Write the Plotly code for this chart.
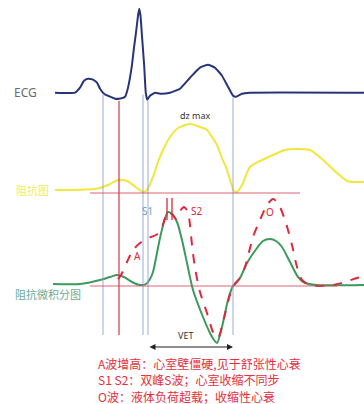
import numpy as np
import plotly.graph_objects as go

# ---- waveform samples: time in ms, amplitude relative to each trace's baseline ----
ecg_t = [0, 80, 100, 116, 132, 152, 168, 180, 196, 220, 240, 256, 280, 292, 307, 316, 324,
         332, 337, 342, 347, 352, 357, 363, 369, 380, 400, 420, 460, 500, 540, 580, 612,
         640, 668, 692, 712, 724, 748, 780, 1236]
ecg_v = [0, 0, 5, 12, 14, 13, 10, 4, -1, -4, -6, -6, -4, 5, 26, 45, 60,
         77, 84, 77, 60, 43, 26, 0, -7, -3, 0, -1, 0, 4, 15, 25, 28,
         25, 17, 6, -3, -4, -1, 0, 0]

imp_t = [0, 60, 160, 180, 220, 252, 288, 328, 352, 368, 392, 412, 432, 460, 492, 540,
         580, 608, 628, 648, 668, 688, 704, 716, 728, 748, 780, 820, 872, 920, 960,
         1020, 1072, 1128, 1168, 1200, 1236]
imp_v = [0, 0, 1, 2, 6, 10, 9, 2, -2, 0, 13, 28, 40, 53, 62, 66,
         63, 60, 53, 45, 32, 20, 7, -1, -2, 5, 23, 29, 35, 40, 41,
         40, 30, 17, 9, 8, 8]

dzdt_t = [-8, 100, 180, 220, 248, 276, 308, 340, 364, 380, 392, 404, 420, 436, 452, 468,
          488, 508, 528, 552, 592, 620, 636, 648, 668, 692, 712, 740, 768, 808, 832,
          860, 884, 908, 940, 972, 1000, 1048, 1236]
dzdt_v = [1, 1, 5, 8, 10, 8, 3, 0, 1, 6, 13, 27, 47, 63, 73, 71,
          63, 45, 22, -5, -32, -48, -55, -58, -42, -15, -1, 7, 22, 37, 44,
          46, 44, 38, 23, 8, 2, 0, 0]

abn_t = [252, 264, 288, 312, 340, 372, 404, 424, 440, 452, 468, 484, 500, 516, 532, 540,
         548, 560, 580, 608, 632, 652, 676, 696, 712, 740, 760, 792, 820, 848, 872,
         892, 920, 948, 968, 988, 1020, 1060, 1112, 1160, 1208, 1236]
abn_v = [6, 10, 23, 35, 42, 47, 50, 55, 67, 73, 71, 66, 74, 78, 73, 60,
         40, 17, -7, -28, -47, -53, -33, -13, -2, 7, 18, 48, 65, 80, 86,
         82, 65, 40, 18, 5, 0, -1, 0, 3, 7, 9]

# event markers (ms)
blue_events = [192, 352, 372, 712]
red_events = [256]
s_marks = [448, 468]
vet_start, vet_end = 372, 712

notes = ["A波增高：心室壁僵硬,见于舒张性心衰",
         "S1 S2：双峰S波；心室收缩不同步",
         "O波：液体负荷超载；收缩性心衰"]

# ---- layout constants ----
ECG_BASE, IMP_BASE, DZ_BASE = 311.3, 214, 119
LINE_BOTTOM = 69
CJK = "Noto Sans CJK SC"

fig = go.Figure()

def lane(t, v, base, color, width, dash=None, smoothing=0.7):
    fig.add_trace(go.Scatter(
        x=t, y=np.array(v) + base, mode="lines",
        line=dict(color=color, width=width, shape="spline", smoothing=smoothing, dash=dash),
        hoverinfo="skip", showlegend=False))

# event lines start just under the ECG trace, drawn first so the curves sit on top
def line_top(t):
    return min(float(np.interp(t, ecg_t, ecg_v)), 0) + ECG_BASE - 2

for t in blue_events:
    fig.add_shape(type="line", x0=t, x1=t, y0=line_top(t), y1=LINE_BOTTOM,
                  line=dict(color="rgba(140,155,215,0.85)", width=1))
for t in red_events:
    fig.add_shape(type="line", x0=t, x1=t, y0=line_top(t), y1=LINE_BOTTOM,
                  line=dict(color="rgba(210,50,70,0.9)", width=1.3))

# baselines
fig.add_shape(type="line", x0=140, x1=980, y0=IMP_BASE - 3, y1=IMP_BASE - 3,
              line=dict(color="rgba(215,60,80,0.8)", width=1))
fig.add_shape(type="line", x0=140, x1=1128, y0=DZ_BASE - 1, y1=DZ_BASE - 1,
              line=dict(color="rgba(215,60,80,0.8)", width=1))

lane(ecg_t, ecg_v, ECG_BASE, "#283478", 2, smoothing=0.4)
lane(imp_t, imp_v, IMP_BASE, "#f2e63a", 2)
lane(dzdt_t, dzdt_v, DZ_BASE, "#3c9a5c", 2)
lane(abn_t, abn_v, DZ_BASE, "#e0283c", 2, dash="dash")

# split-peak marks
for t in s_marks:
    fig.add_shape(type="line", x0=t, x1=t, y0=DZ_BASE + 87, y1=DZ_BASE + 65,
                  line=dict(color="#d8283c", width=1.3))

def label(x, y, text, color, size, font="Noto Sans", anchor="center"):
    fig.add_annotation(x=x, y=y, text=text, showarrow=False, xanchor=anchor,
                       borderpad=0, font=dict(family=font, size=size, color=color))

label(-120, 312, "ECG", "#6b6b6b", 12)
label(-92, 214, "阻抗图", "#eeee55", 11, CJK)
label(-28, 110, "阻抗微积分图", "#6aab96", 11, CJK)
label(560, 289, "dz max", "#333333", 9)
label(368, 193, "S1", "#6a9fb8", 10)
label(566, 193, "S2", "#e0283c", 10)
label(328, 148, "A", "#e0283c", 10)
label(860, 192, "O", "#e0283c", 10)
label(520, 69, "VET", "#333333", 9)

# VET double arrow
fig.add_annotation(x=vet_end, y=57, ax=vet_start, ay=57, xref="x", yref="y",
                   axref="x", ayref="y", text="", showarrow=True,
                   arrowhead=2, startarrowhead=2, arrowside="end+start",
                   arrowsize=1, arrowwidth=1.2, arrowcolor="#222222")

for i, line in enumerate(notes):
    label(168, 41 - i * 16.5, line, "#e3303c", 12, CJK, anchor="left")

fig.update_layout(
    width=364, height=404, margin=dict(l=0, r=0, t=0, b=0),
    paper_bgcolor="white", plot_bgcolor="white", showlegend=False,
    xaxis=dict(range=[-220, 1236], visible=False, fixedrange=True),
    yaxis=dict(range=[0, 404], visible=False, fixedrange=True),
)

fig.write_html("out.html")
